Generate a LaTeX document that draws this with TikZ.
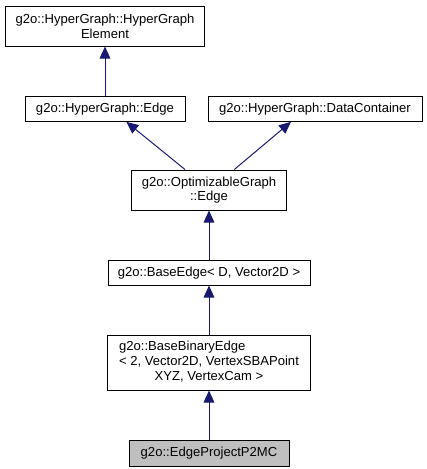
\documentclass[tikz,border=0pt]{standalone}
\usepackage{fontspec}
\setmainfont{Liberation Sans}
\usetikzlibrary{arrows.meta,positioning}

\definecolor{edgeblue}{RGB}{25,25,112}

\begin{document}
\begin{tikzpicture}[x=0.75pt,y=-0.75pt,
	cls/.style={rectangle,draw,line width=0.75pt,inner sep=0pt,align=center,
		font=\fontsize{9.8}{11}\selectfont},
	current/.style={cls,fill=black!25},
	paths/.style={->, line width=0.75pt, draw=edgeblue, >={Triangle[length=9pt,width=8pt]}}
	]
\useasboundingbox (0,0) rectangle (427,469);

% base classes
\node [cls, minimum width=149pt, minimum height=30pt] (hgElement) at (105,26) {g2o::HyperGraph::HyperGraph\\Element};
\node [cls, minimum width=120pt, minimum height=18.75pt] (hgEdge) [below = 37pt of hgElement] {g2o::HyperGraph::Edge};
\node [cls, minimum width=160.5pt, minimum height=18.75pt] (hgData) [right = 16.5pt of hgEdge] {g2o::HyperGraph::DataContainer};

% edge chain
\node [cls, minimum width=116pt, minimum height=30pt] (optEdge) at (209,190) {g2o::OptimizableGraph\\::Edge};
\node [cls, minimum width=151.5pt, minimum height=18.5pt] (baseEdge) [below = 37pt of optEdge] {g2o::BaseEdge< D, Vector2D >};
\node [cls, minimum width=152pt, minimum height=41pt] (baseBinary) [below = 37pt of baseEdge]
	{\begin{tabular}{@{}c@{}}\multicolumn{1}{@{}l@{}}{g2o::BaseBinaryEdge}\\< 2, Vector2D, VertexSBAPoint\\XYZ, VertexCam >\end{tabular}};
\node [current, minimum width=120pt, minimum height=19.5pt] (p2mc) [below = 37pt of baseBinary] {g2o::EdgeProjectP2MC};

% inheritance
\draw [paths] (hgEdge) -- (hgElement);
\draw [paths] ([xshift=-18pt]optEdge.north) -- ([xshift=16pt]hgEdge.south);
\draw [paths] ([xshift=19pt]optEdge.north) -- ([xshift=-18pt]hgData.south);
\draw [paths] (baseEdge) -- (optEdge);
\draw [paths] (baseBinary) -- (baseEdge);
\draw [paths] (p2mc) -- (baseBinary);
\end{tikzpicture}
\end{document}
